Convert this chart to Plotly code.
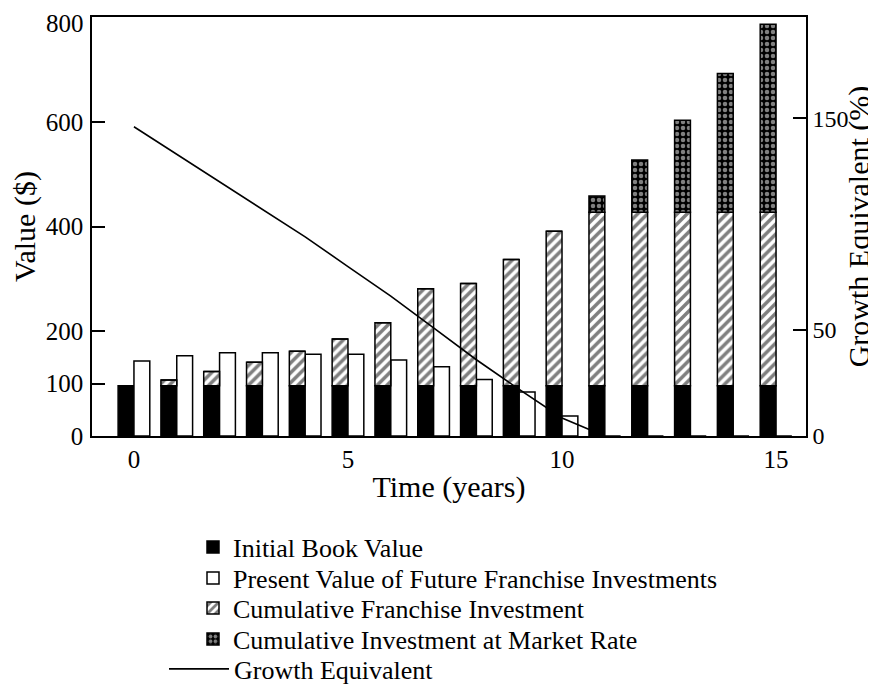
import plotly.graph_objects as go

# ---- data ----
years = list(range(16))
initial_book_value = [96] * 16
pv_future_franchise = [143, 153, 159, 159, 156, 156, 145, 132, 108, 84, 38, 0, 0, 0, 0, 0]
cum_franchise_investment = [0, 11, 27, 45, 66, 89, 120, 185, 195, 241, 295, 331, 331, 331, 331, 331]
cum_investment_market = [0, 0, 0, 0, 0, 0, 0, 0, 0, 0, 0, 31, 100, 176, 265, 359]
growth_years = [0, 1, 2, 3, 4, 5, 6, 7, 8, 9, 10, 10.65]
growth_equivalent = [146, 133, 120, 107, 94, 80, 66, 51, 36, 22, 8.5, 3]

x_tickvals = [0, 5, 10, 15]
y_tickvals = [0, 100, 200, 400, 600]
y_top_tick = 800
y2_tickvals = [0, 50, 150]

FONT = "Liberation Serif"
FS = 25
BW = 0.37
LW = 1.5

base_hatch = initial_book_value
base_cross = [a + b for a, b in zip(initial_book_value, cum_franchise_investment)]

fig = go.Figure()
fig.add_trace(go.Bar(
    x=years, y=initial_book_value, name="Initial Book Value",
    width=BW, offset=-BW,
    marker=dict(color="black", line=dict(color="black", width=LW)),
    legend="legend", showlegend=True,
))
fig.add_trace(go.Bar(
    x=years, y=pv_future_franchise, name="Present Value of Future Franchise Investments",
    width=BW, offset=0,
    marker=dict(color="white", line=dict(color="black", width=LW)),
    legend="legend2", showlegend=True,
))
fig.add_trace(go.Bar(
    x=years, y=cum_franchise_investment, base=base_hatch,
    name="Cumulative Franchise Investment",
    width=BW, offset=-BW,
    marker=dict(color="white", line=dict(color="black", width=LW),
                pattern=dict(shape="/", fgcolor="black", bgcolor="white",
                             size=7, solidity=0.5)),
    legend="legend3", showlegend=True,
))
fig.add_trace(go.Bar(
    x=years, y=cum_investment_market, base=base_cross,
    name="Cumulative Investment at Market Rate",
    width=BW, offset=-BW,
    marker=dict(color="black", line=dict(color="black", width=LW),
                pattern=dict(shape=".", fgcolor="white", bgcolor="black",
                             size=6, solidity=0.45)),
    legend="legend4", showlegend=True,
))
fig.add_trace(go.Scatter(
    x=growth_years, y=growth_equivalent, name="Growth Equivalent",
    mode="lines", line=dict(color="black", width=1.6),
    yaxis="y2", legend="legend5", showlegend=True,
))

# page body has an 8px margin; reference pixel positions are shifted by -8
OFF = 8
FIG_W, FIG_H = 876 - OFF, 694 - OFF
L, R, T, B = 92 - OFF, 806 - OFF, 17 - OFF, 436 - OFF
W, H = R - L, B - T

def py(ypx):
    return (B - (ypx - OFF)) / H

def px(xpx):
    return ((xpx - OFF) - L) / W

leg_common = dict(font=dict(family=FONT, size=26, color="black"),
                  bgcolor="rgba(0,0,0,0)", xanchor="left", yanchor="middle",
                  borderwidth=0, visible=True)
rows = [547, 578, 608, 639, 669]
fig.update_layout(
    showlegend=True,
    legend=dict(x=px(193), y=py(rows[0]), **leg_common),
    legend2=dict(x=px(193), y=py(rows[1]), **leg_common),
    legend3=dict(x=px(193), y=py(rows[2]), **leg_common),
    legend4=dict(x=px(193), y=py(rows[3]), **leg_common),
    legend5=dict(x=px(164), y=py(rows[4]), itemwidth=60, **leg_common),
)

fig.update_layout(
    width=FIG_W, height=FIG_H,
    margin=dict(l=L, r=FIG_W - R, t=T, b=FIG_H - B, autoexpand=False),
    paper_bgcolor="white", plot_bgcolor="white",
    barmode="overlay",
    font=dict(family=FONT, size=FS, color="black"),
    xaxis=dict(range=[-0.98, 15.7], tickvals=x_tickvals, ticks="",
               showline=True, linecolor="black", linewidth=1.5, mirror=True,
               showgrid=False, zeroline=False,
               title=dict(text="Time (years)", standoff=4)),
    yaxis=dict(range=[0, 800], tickvals=y_tickvals, ticks="inside", ticklen=13,
               tickwidth=1.5, tickcolor="black", ticklabelstandoff=2,
               showline=True, linecolor="black", linewidth=1.5,
               showgrid=False, zeroline=False,
               title=dict(text="Value ($)", standoff=6)),
    yaxis2=dict(range=[0, 197.8], tickvals=y2_tickvals, ticks="inside", ticklen=13,
                tickwidth=1.5, tickcolor="black", overlaying="y", side="right",
                tickfont=dict(family=FONT, size=24, color="black"),
                showline=True, linecolor="black", linewidth=1.5,
                showgrid=False, zeroline=False,
                title=dict(text="Growth Equivalent (%)", standoff=14)),
    # top tick label of the value axis, nudged down so it stays inside the page
    annotations=[dict(text=str(y_top_tick), xref="paper", yref="y",
                      x=0, y=y_top_tick, xanchor="right", yanchor="middle",
                      xshift=-6, yshift=-6, showarrow=False,
                      font=dict(family=FONT, size=FS, color="black"))],
)

fig.write_html("out.html")
